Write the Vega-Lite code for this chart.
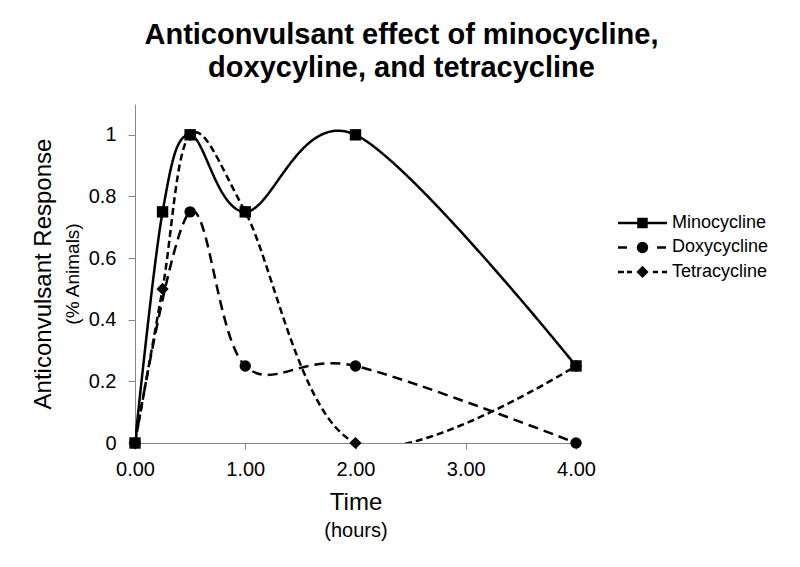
{
  "$schema": "https://vega.github.io/schema/vega-lite/v6.json",
  "width": 441,
  "height": 339,
  "autosize": "none",
  "padding": {"left": 135, "top": 104, "right": 224, "bottom": 124},
  "background": "white",
  "title": {
    "text": ["Anticonvulsant effect of minocycline,", "doxycyline, and tetracycline"],
    "font": "Liberation Sans",
    "fontSize": 29,
    "fontWeight": "bold",
    "color": "black",
    "anchor": "middle",
    "frame": "group",
    "dx": 46,
    "offset": 21,
    "lineHeight": 33
  },
  "config": {
    "view": {"stroke": null},
    "font": "Liberation Sans",
    "axis": {
      "grid": false,
      "domainColor": "#868686",
      "tickColor": "#868686",
      "labelColor": "black",
      "titleColor": "black",
      "titleFontWeight": "normal",
      "labelFont": "Liberation Sans",
      "titleFont": "Liberation Sans"
    }
  },
  "data": {
    "values": [
      {"drug": "Minocycline", "time": 0, "response": 0},
      {"drug": "Minocycline", "time": 0.25, "response": 0.75},
      {"drug": "Minocycline", "time": 0.5, "response": 1},
      {"drug": "Minocycline", "time": 1, "response": 0.75},
      {"drug": "Minocycline", "time": 2, "response": 1},
      {"drug": "Minocycline", "time": 4, "response": 0.25},
      {"drug": "Doxycycline", "time": 0, "response": 0},
      {"drug": "Doxycycline", "time": 0.5, "response": 0.75},
      {"drug": "Doxycycline", "time": 1, "response": 0.25},
      {"drug": "Doxycycline", "time": 2, "response": 0.25},
      {"drug": "Doxycycline", "time": 4, "response": 0},
      {"drug": "Tetracycline", "time": 0, "response": 0},
      {"drug": "Tetracycline", "time": 0.25, "response": 0.5},
      {"drug": "Tetracycline", "time": 0.5, "response": 1},
      {"drug": "Tetracycline", "time": 1, "response": 0.75},
      {"drug": "Tetracycline", "time": 2, "response": 0},
      {"drug": "Tetracycline", "time": 4, "response": 0.25}
    ]
  },
  "layer": [
    {
      "mark": {"type": "line", "interpolate": "cardinal", "tension": 0, "clip": true, "strokeWidth": 2.5, "color": "black"},
      "encoding": {
        "x": {
          "field": "time", "type": "quantitative",
          "scale": {"domain": [0, 4], "nice": false, "zero": false},
          "axis": {
            "title": "Time", "titleFontSize": 24, "labelFontSize": 20,
            "format": ".2f", "values": [0, 1, 2, 3, 4], "tickSize": 6,
            "labelPadding": 10, "titlePadding": 11, "labelFlush": false, "labelOverlap": false
          }
        },
        "y": {
          "field": "response", "type": "quantitative",
          "scale": {"domain": [0, 1.1], "nice": false},
          "axis": {
            "title": "(% Animals)", "titleFontSize": 19, "labelFontSize": 20,
            "format": "~g", "values": [0, 0.2, 0.4, 0.6, 0.8, 1], "tickSize": 7,
            "labelPadding": 12, "titlePadding": 6
          }
        },
        "strokeDash": {
          "field": "drug", "type": "nominal",
          "scale": {"domain": ["Minocycline", "Doxycycline", "Tetracycline"], "range": [[1, 0], [10, 6], [7, 4]]},
          "legend": null
        }
      }
    },
    {
      "transform": [{"filter": "datum.drug === 'Tetracycline'"}],
      "mark": {"type": "point", "shape": "diamond", "size": 150, "filled": true, "color": "black", "opacity": 1},
      "encoding": {
        "x": {"field": "time", "type": "quantitative", "scale": {"domain": [0, 4], "nice": false, "zero": false}, "axis": null},
        "y": {"field": "response", "type": "quantitative", "scale": {"domain": [0, 1.1], "nice": false}, "axis": null}
      }
    },
    {
      "transform": [{"filter": "datum.drug === 'Doxycycline'"}],
      "mark": {"type": "point", "shape": "circle", "size": 130, "filled": true, "color": "black", "opacity": 1},
      "encoding": {
        "x": {"field": "time", "type": "quantitative", "scale": {"domain": [0, 4], "nice": false, "zero": false}, "axis": null},
        "y": {"field": "response", "type": "quantitative", "scale": {"domain": [0, 1.1], "nice": false}, "axis": null}
      }
    },
    {
      "transform": [{"filter": "datum.drug === 'Minocycline'"}],
      "mark": {"type": "point", "shape": "square", "size": 130, "filled": true, "color": "black", "opacity": 1},
      "encoding": {
        "x": {
          "field": "time", "type": "quantitative",
          "scale": {"domain": [0, 4], "nice": false, "zero": false},
          "axis": {"orient": "bottom", "title": "(hours)", "titleFontSize": 20, "labels": false, "ticks": false, "domain": false, "offset": 77, "titlePadding": 0}
        },
        "y": {
          "field": "response", "type": "quantitative",
          "scale": {"domain": [0, 1.1], "nice": false},
          "axis": {"orient": "left", "title": "Anticonvulsant Response", "titleFontSize": 24, "labels": false, "ticks": false, "domain": false, "offset": 80, "titlePadding": 0}
        }
      }
    },
    {
      "data": {
        "values": [
          {"drug": "Minocycline", "row": 1},
          {"drug": "Doxycycline", "row": 2},
          {"drug": "Tetracycline", "row": 3}
        ]
      },
      "encoding": {
        "y": {"field": "row", "type": "quantitative", "scale": {"domain": [-3.857, 9.98], "nice": false, "zero": false, "reverse": true}, "axis": null}
      },
      "layer": [
        {
          "mark": {"type": "rule", "color": "black", "strokeWidth": 2.5},
          "encoding": {
            "x": {"datum": 0, "type": "quantitative", "scale": {"domain": [-9.857, -0.857], "nice": false, "zero": false}, "axis": null},
            "x2": {"datum": 1},
            "strokeDash": {
              "field": "drug", "type": "nominal",
              "scale": {"domain": ["Minocycline", "Doxycycline", "Tetracycline"], "range": [[1, 0], [9, 30], [6, 3, 5, 21, 5, 4, 5]]},
              "legend": null
            }
          }
        },
        {
          "mark": {"type": "point", "filled": true, "color": "black", "opacity": 1},
          "encoding": {
            "x": {"datum": 0.5, "type": "quantitative", "scale": {"domain": [-9.857, -0.857], "nice": false, "zero": false}, "axis": null},
            "shape": {
              "field": "drug", "type": "nominal",
              "scale": {"domain": ["Minocycline", "Doxycycline", "Tetracycline"], "range": ["square", "circle", "diamond"]},
              "legend": null
            },
            "size": {
              "field": "drug", "type": "nominal",
              "scale": {"domain": ["Minocycline", "Doxycycline", "Tetracycline"], "range": [110, 150, 150]},
              "legend": null
            }
          }
        },
        {
          "mark": {"type": "text", "align": "left", "baseline": "middle", "fontSize": 18, "font": "Liberation Sans", "color": "black"},
          "encoding": {
            "x": {"datum": 1.1, "type": "quantitative", "scale": {"domain": [-9.857, -0.857], "nice": false, "zero": false}, "axis": null},
            "text": {"field": "drug", "type": "nominal"}
          }
        }
      ]
    }
  ],
  "resolve": {
    "axis": {"x": "independent", "y": "independent"},
    "scale": {"x": "independent", "y": "independent", "strokeDash": "independent"}
  }
}
